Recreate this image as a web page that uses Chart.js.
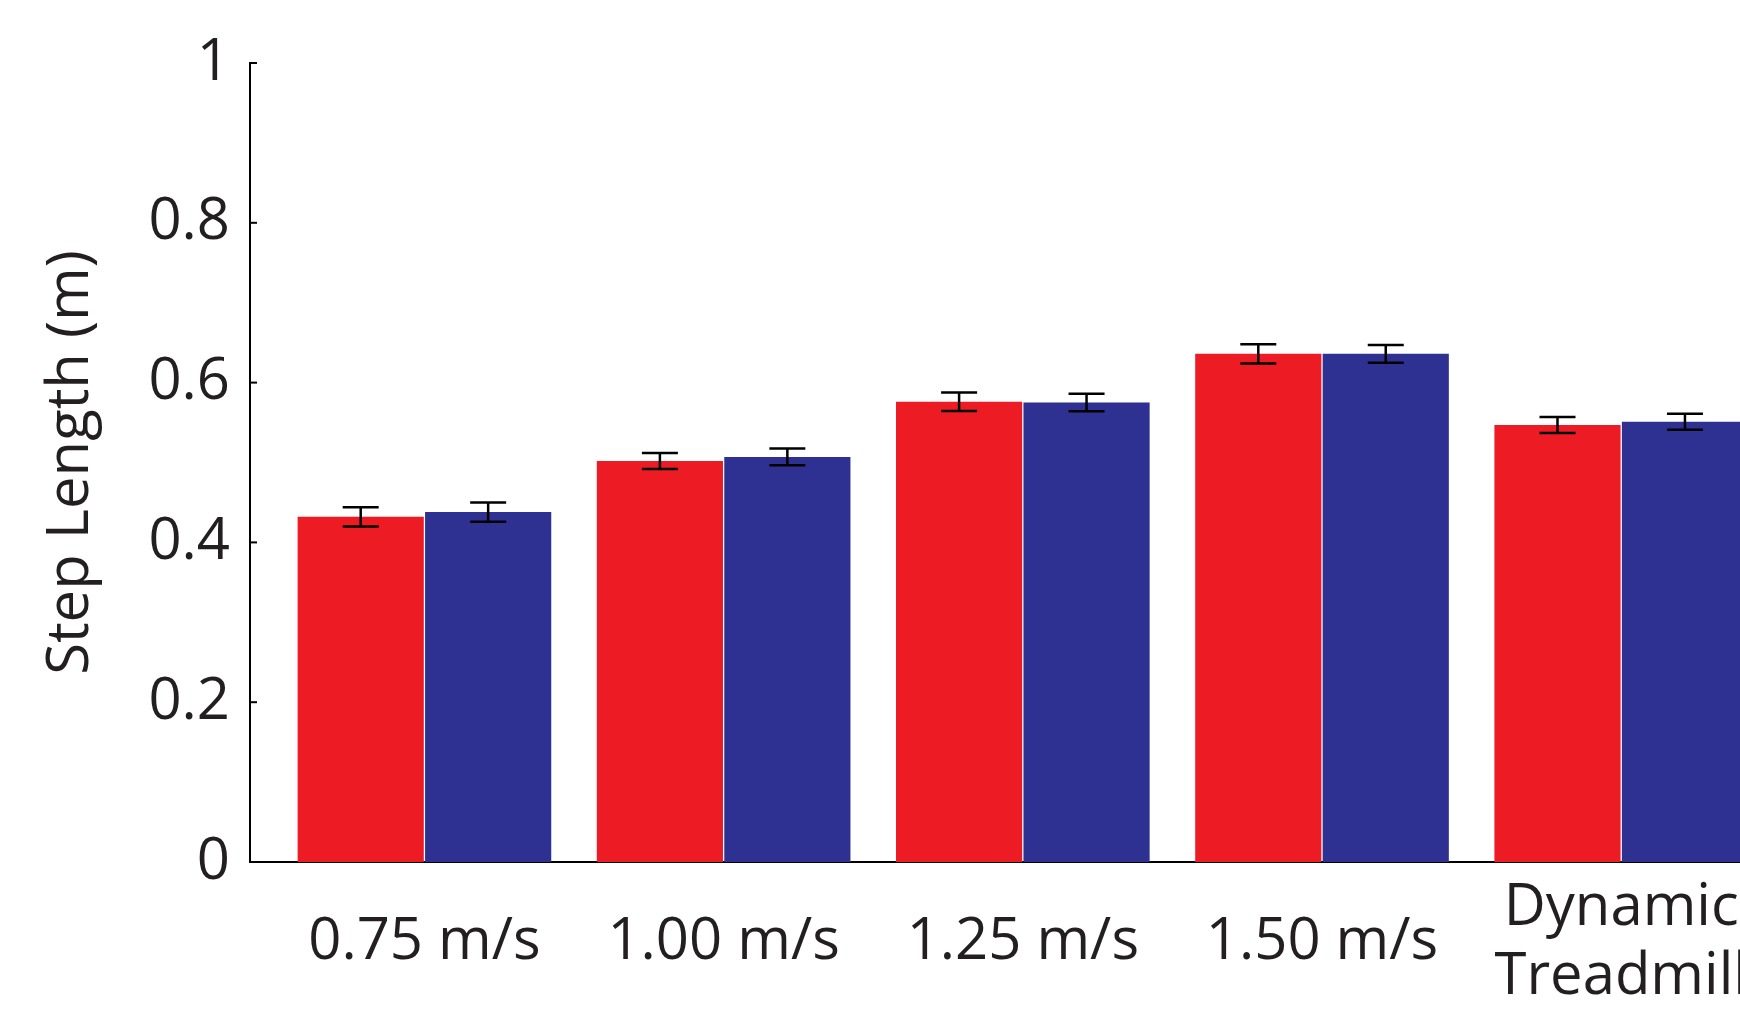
<!DOCTYPE html>
<html>
<head>
<meta charset="utf-8">
<script src="https://cdn.jsdelivr.net/npm/chart.js@4"></script>
<style>
  html, body { margin: 0; padding: 0; background: #fff; overflow: hidden; }
</style>
</head>
<body>
<canvas id="chartPasso" width="1740" height="1025"></canvas>
<script>
// categorias do eixo x
var categorias = ['0.75 m/s', '1.00 m/s', '1.25 m/s', '1.50 m/s', ['Dynamic', 'Treadmill']];

// medias (m) e erro padrao - serie vermelha
var mediaVermelho = [0.432, 0.502, 0.576, 0.636, 0.547];
var erroVermelho = [0.012, 0.010, 0.0115, 0.012, 0.010];

// medias (m) e erro padrao - serie azul
var mediaAzul = [0.438, 0.507, 0.575, 0.636, 0.551];
var erroAzul = [0.012, 0.0105, 0.011, 0.011, 0.010];

var ticksY = [0, 0.2, 0.4, 0.6, 0.8, 1];

var corTexto = '#231f20';
var fonte = "'Open Sans', sans-serif";

function montarPontos(valores) {
  return valores.map(function (v, i) { return { x: i + 1, y: v }; });
}

// desenha as barras de erro em cima das barras
var pluginErro = {
  id: 'barrasErro',
  afterDatasetsDraw: function (chart) {
    var ctx = chart.ctx;
    var escalaY = chart.scales.y;
    var area = chart.chartArea;
    ctx.save();
    ctx.beginPath();
    ctx.rect(area.left, 0, area.right - area.left, chart.height);
    ctx.clip();
    ctx.strokeStyle = '#000';
    ctx.lineWidth = 2.5;
    chart.data.datasets.forEach(function (ds, i) {
      var meta = chart.getDatasetMeta(i);
      meta.data.forEach(function (barra, j) {
        var topo = escalaY.getPixelForValue(ds.medias[j] + ds.erros[j]);
        var base = escalaY.getPixelForValue(ds.medias[j] - ds.erros[j]);
        var meia = 18;
        ctx.beginPath();
        ctx.moveTo(barra.x, topo);
        ctx.lineTo(barra.x, base);
        ctx.moveTo(barra.x - meia, topo);
        ctx.lineTo(barra.x + meia, topo);
        ctx.moveTo(barra.x - meia, base);
        ctx.lineTo(barra.x + meia, base);
        ctx.stroke();
      });
    });
    ctx.restore();

    // marcas do eixo y para dentro
    ctx.save();
    ctx.strokeStyle = '#000';
    ctx.lineWidth = 2;
    ticksY.forEach(function (t) {
      var y = escalaY.getPixelForValue(t);
      ctx.beginPath();
      ctx.moveTo(area.left, y);
      ctx.lineTo(area.left + 7, y);
      ctx.stroke();
    });
    ctx.restore();
  }
};

var dados = {
  datasets: [{
    label: 'Vermelho',
    data: montarPontos(mediaVermelho),
    medias: mediaVermelho,
    erros: erroVermelho,
    backgroundColor: '#ed1c24',
    borderWidth: 0
  }, {
    label: 'Azul',
    data: montarPontos(mediaAzul),
    medias: mediaAzul,
    erros: erroAzul,
    backgroundColor: '#2e3192',
    borderWidth: 0
  }]
};

const config = {
  type: 'bar',
  data: dados,
  plugins: [pluginErro],
  options: {
    responsive: false,
    animation: false,
    devicePixelRatio: 1,
    categoryPercentage: 0.852,
    barPercentage: 0.99,
    layout: { padding: { top: 63, left: 0, right: 0, bottom: 0 } },
    plugins: {
      legend: { display: false },
      tooltip: { enabled: false }
    },
    scales: {
      x: {
        type: 'linear',
        offset: false,
        min: 0.417,
        max: 5.397,
        afterBuildTicks: function (escala) {
          escala.ticks = categorias.map(function (c, i) { return { value: i + 1 }; });
        },
        afterFit: function (escala) {
          escala.height = 163;
          escala.paddingLeft = 0;
          escala.paddingRight = 0;
        },
        grid: { display: false, drawTicks: false, offset: false },
        border: { display: true, color: '#000', width: 2 },
        ticks: {
          autoSkip: false,
          maxRotation: 0,
          padding: 46,
          crossAlign: 'center',
          color: corTexto,
          font: { family: fonte, size: 58, lineHeight: 1.2 },
          callback: function (valor) { return categorias[valor - 1]; }
        }
      },
      y: {
        min: 0,
        max: 1,
        afterBuildTicks: function (escala) {
          escala.ticks = ticksY.map(function (t) { return { value: t }; });
        },
        afterFit: function (escala) {
          escala.width = 250;
        },
        grid: { display: false, drawTicks: false },
        border: { display: true, color: '#000', width: 2 },
        ticks: {
          padding: 20,
          color: corTexto,
          font: { family: fonte, size: 58 },
          callback: function (valor) { return String(valor); }
        },
        title: {
          display: true,
          text: 'Step Length (m)',
          color: corTexto,
          font: { family: fonte, size: 58, lineHeight: 1.2 },
          padding: { top: 37, bottom: 0 }
        }
      }
    }
  }
};

let graficoPasso = new Chart(document.getElementById('chartPasso'), config);
</script>
</body>
</html>
